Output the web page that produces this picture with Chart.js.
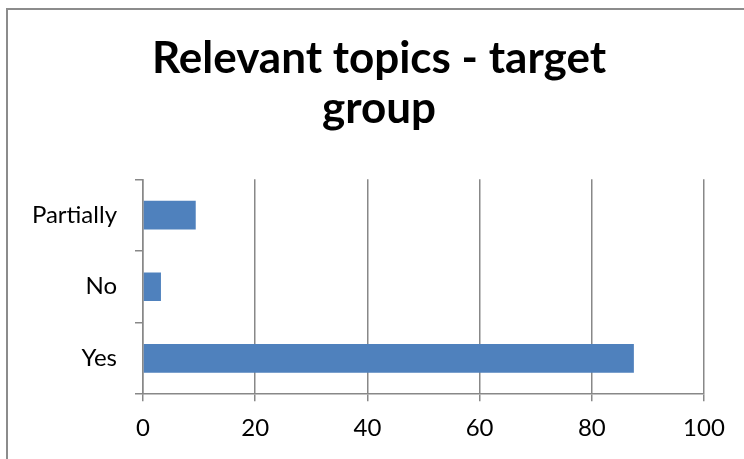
<!DOCTYPE html>
<html>
<head>
<meta charset="utf-8">
<script src="https://cdn.jsdelivr.net/npm/chart.js@4.4.1/dist/chart.umd.min.js"></script>
<style>
  html, body { margin: 0; padding: 0; background: #fff; }
  #wrap { position: relative; width: 744px; height: 459px; overflow: hidden; }
  #frame {
    position: absolute; left: 6px; top: 8px; width: 800px; height: 500px;
    border-left: 2px solid #8c8c8c; border-top: 2px solid #8c8c8c;
    box-sizing: border-box;
  }
  canvas { position: absolute; left: 0; top: 0; }
</style>
</head>
<body>
<div id="wrap">
  <div id="frame"></div>
  <canvas id="chart" width="744" height="459"></canvas>
</div>
<script>
/* ---- data ---- */
const categories = ['Partially', 'No', 'Yes'];
const shares = [9.4, 3.2, 87.5];
const xTicks = [0, 20, 40, 60, 80, 100];

const titleLines = ['Relevant topics - target', 'group'];

const gridGray = '#888888';
const barBlue = '#4f81bd';
const fontFamily = "Lato, 'Open Sans', sans-serif";

new Chart(document.getElementById('chart'), {
  type: 'bar',
  data: {
    labels: categories,
    datasets: [{
      data: shares,
      backgroundColor: barBlue,
      borderWidth: 0,
      barPercentage: 0.4,
      categoryPercentage: 1,
    }],
  },
  options: {
    indexAxis: 'y',
    responsive: false,
    animation: false,
    layout: { padding: { left: 14, right: 0, top: 34, bottom: 3 } },
    plugins: {
      legend: { display: false },
      tooltip: { enabled: false },
      title: {
        display: true,
        text: titleLines,
        color: '#000',
        font: { family: fontFamily, size: 44, weight: 'bold', lineHeight: 1.14 },
        padding: { top: 0, bottom: 45 },
      },
    },
    scales: {
      x: {
        min: xTicks[0],
        max: xTicks[xTicks.length - 1],
        afterBuildTicks: (scale) => { scale.ticks = xTicks.map((v) => ({ value: v })); },
        // leave room on the right like the original plot area
        afterFit: (scale) => { scale.paddingRight = 40; },
        grid: { color: gridGray, lineWidth: 1.5, tickLength: 7, drawOnChartArea: true },
        border: { color: gridGray, width: 1.5 },
        ticks: { color: '#000', padding: 13, font: { family: fontFamily, size: 24 } },
      },
      y: {
        afterFit: (scale) => { scale.width = 129; },
        grid: { color: gridGray, lineWidth: 1.5, tickLength: 8, drawOnChartArea: false, offset: true },
        border: { color: gridGray, width: 1.5 },
        ticks: { color: '#000', padding: 18, font: { family: fontFamily, size: 24 } },
      },
    },
  },
});
</script>
</body>
</html>
